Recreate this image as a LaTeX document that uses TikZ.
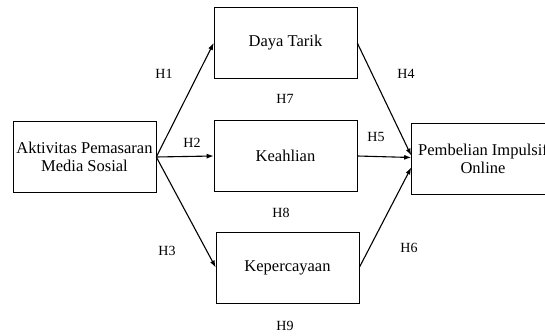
\documentclass[tikz,border=0pt]{standalone}
\usepackage{fontspec}
\setmainfont{Liberation Serif}
\usetikzlibrary{arrows.meta}
\begin{document}
\begin{tikzpicture}[
	x=1pt,y=-1pt,
	font=\rmfamily\fontsize{16.5}{18}\selectfont,
	var/.style={
		rectangle,
		draw,
		line width=0.6pt,
		minimum width=143pt,
		minimum height=71pt,
		inner sep=1pt,
		align=center,
	},
	hyp/.style={% hypothesis labels
		inner sep=0pt,
		font=\rmfamily\fontsize{14}{15}\selectfont,
	},
	ArrowH/.style={
		-{Latex[length=7pt,width=5pt]},
		line width=1.1pt,
	},
]
	\useasboundingbox (0,0) rectangle (545,336);
	\node [var] (akt) at (84.5,157) {Aktivitas Pemasaran\\Media Sosial};
	\node [var] (daya) at (285.5,43) {Daya Tarik};
	\node [var] (ahli) at (285.5,156) {Keahlian};
	\node [var] (percaya) at (287.5,267.5) {Kepercayaan};
	\node [var] (imp) at (483,158.5) {Pembelian Impulsif\\Online};

	\draw [ArrowH] (akt.east) -- (daya.west);
	\draw [ArrowH] (akt.east) -- (ahli.west);
	\draw [ArrowH] (akt.east) -- (percaya.west);
	\draw [ArrowH] (daya.east) -- ([yshift=3pt]imp.west);
	\draw [ArrowH] (ahli.east) -- ([yshift=1pt]imp.west);
	\draw [ArrowH] (percaya.east) -- ([yshift=-9pt]imp.west);

	\node [hyp] (h1) at (164,74) {H1};
	\node [hyp] (h2) at (192,143) {H2};
	\node [hyp] (h3) at (167,251) {H3};
	\node [hyp] (h4) at (406,74) {H4};
	\node [hyp] (h5) at (376,137) {H5};
	\node [hyp] (h6) at (409,248) {H6};
	\node [hyp] (h7) at (285,99) {H7};
	\node [hyp] (h8) at (281,213) {H8};
	\node [hyp] (h9) at (285,326) {H9};
\end{tikzpicture}
\end{document}
